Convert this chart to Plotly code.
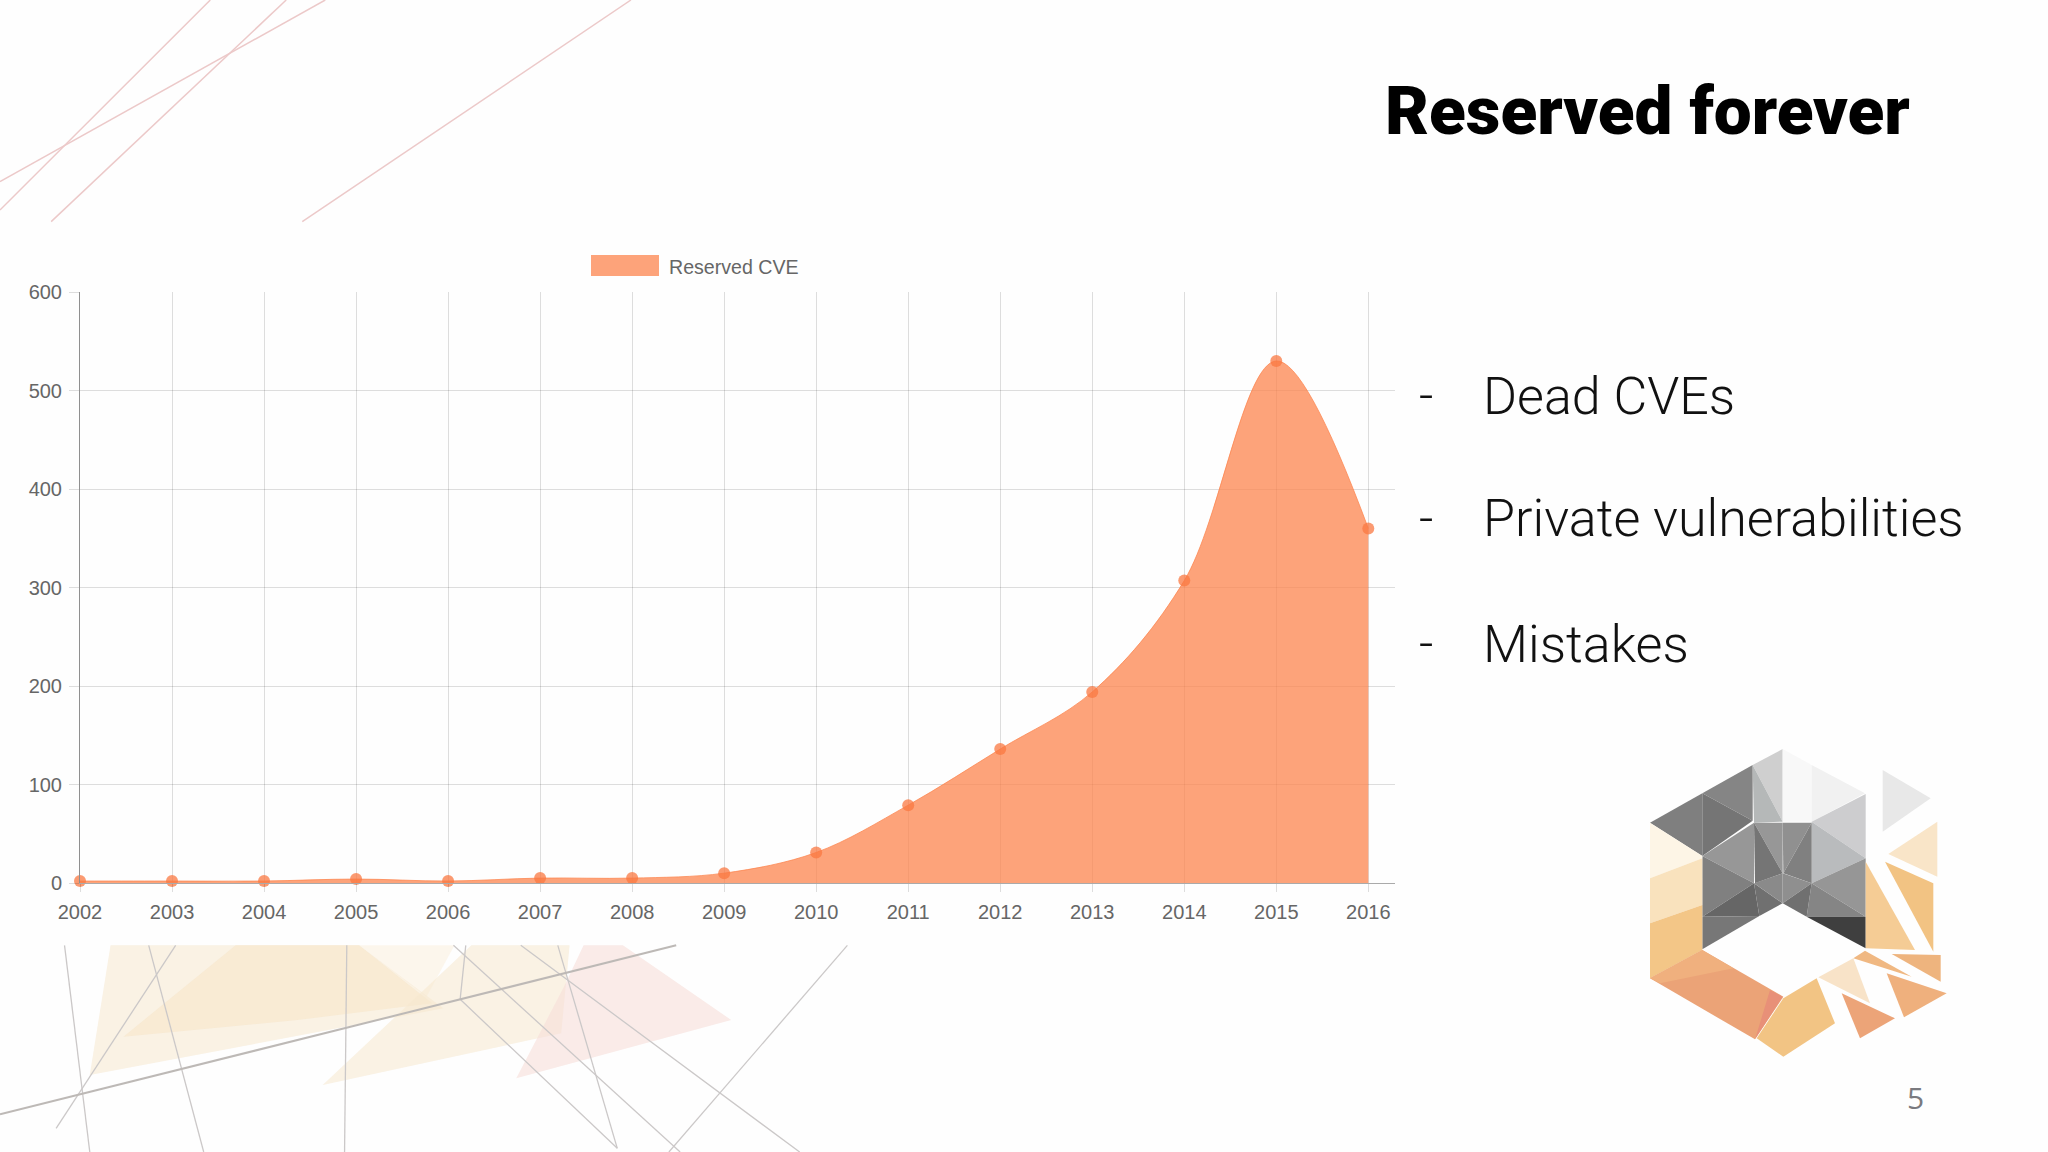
import plotly.graph_objects as go

W = 2048
H = 1152

years = list(range(2002, 2017))
reserved = [2, 2, 2, 4, 2, 5, 5, 10, 31, 79, 136, 194, 307, 530, 360]
y_ticks = [0, 100, 200, 300, 400, 500, 600]

title = "Reserved forever"
series_name = "Reserved CVE"
bullets = ["Dead CVEs", "Private vulnerabilities", "Mistakes"]
page_number = "5"

FILL = "rgba(252,132,78,0.75)"
MARKER = "rgba(250,120,65,0.75)"


def px(x):
    return x / W


def py(y):
    return 1 - y / H


def line(x0, y0, x1, y1, color, width=1.2):
    return dict(type="line", xref="paper", yref="paper", layer="below",
                x0=px(x0), y0=py(y0), x1=px(x1), y1=py(y1),
                line=dict(color=color, width=width))


def poly(points, color):
    path = "M" + "L".join(f"{px(x):.5f},{py(y):.5f}" for x, y in points) + "Z"
    return dict(type="path", xref="paper", yref="paper", layer="below", path=path,
                fillcolor=color, line=dict(width=0))


def label(text, x, y, size, color, family="Roboto", weight=300, anchor="left"):
    return dict(text=text, x=px(x), y=py(y), xref="paper", yref="paper",
                xanchor=anchor, yanchor="middle", showarrow=False,
                font=dict(family=family, size=size, color=color, weight=weight))


shapes = []

# top left decoration
for a in [(485, 0, 0, 630), (660, 0, 118, 665), (750, 0, 0, 545), (1455, 0, 697, 665)]:
    shapes.append(line(a[0] / 2.306, a[1] / 3, a[2] / 2.306, a[3] / 3, "#ecc9c9", 1.5))


def bx(x):
    return x / 1.782


def by(y):
    return 930 + y / 3


bottom_polys = [
    ([(197, 46), (640, 46), (790, 235), (160, 435)], "rgba(246,232,205,0.55)"),
    ([(420, 46), (640, 46), (770, 220), (530, 270), (220, 320)], "rgba(248,228,195,0.5)"),
    ([(640, 46), (810, 46), (760, 200)], "rgba(250,236,210,0.4)"),
    ([(575, 465), (840, 46), (1015, 46), (1000, 310)], "rgba(246,232,205,0.55)"),
    ([(1040, 46), (1110, 46), (1303, 270), (920, 445), (1005, 170)], "rgba(246,222,216,0.6)"),
]
for pts, col in bottom_polys:
    shapes.append(poly([(bx(x), by(y)) for x, y in pts], col))

bottom_lines = [
    (115, 46, 160, 666), (265, 46, 363, 666), (313, 46, 100, 595), (618, 46, 614, 666),
    (808, 46, 1212, 666), (830, 46, 820, 208), (820, 208, 1100, 655), (994, 46, 1100, 655),
    (928, 46, 1425, 666), (1510, 46, 1192, 666),
]
for a in bottom_lines:
    shapes.append(line(bx(a[0]), by(a[1]), bx(a[2]), by(a[3]), "#cbc8c8", 1.3))
shapes.append(line(bx(0), by(553), bx(1205), by(46), "#bdb9b6", 2))


def lx(x):
    return 1600 + x / 3


def ly(y):
    return 730 + y / 3


logo = [
    ([(150, 278), (307, 190), (307, 378)], "#7f7f7f"),
    ([(307, 190), (458, 105), (458, 272)], "#858585"),
    ([(307, 190), (458, 272), (307, 378)], "#757575"),
    ([(458, 105), (548, 57), (548, 275)], "#cfcfcf"),
    ([(458, 105), (548, 275), (462, 278)], "#b5b8b8"),
    ([(548, 57), (635, 105), (635, 275), (548, 275)], "#f8f8f8"),
    ([(635, 105), (795, 190), (635, 275)], "#f1f1f1"),
    ([(635, 275), (797, 192), (797, 385)], "#cdcdcf"),
    ([(635, 275), (797, 385), (635, 460)], "#b9bbbd"),
    ([(635, 460), (797, 385), (797, 560)], "#969696"),
    ([(635, 460), (797, 560), (620, 560)], "#858585"),
    ([(620, 560), (797, 560), (797, 655)], "#3f3f3f"),
    ([(462, 278), (548, 278), (548, 430)], "#979797"),
    ([(548, 278), (635, 278), (550, 430)], "#909090"),
    ([(462, 278), (548, 430), (465, 460)], "#757575"),
    ([(635, 278), (635, 460), (550, 430)], "#808080"),
    ([(307, 378), (462, 278), (462, 460)], "#979797"),
    ([(307, 378), (462, 460), (307, 560)], "#808080"),
    ([(307, 560), (462, 460), (478, 558)], "#666666"),
    ([(462, 460), (548, 520), (478, 558)], "#707070"),
    ([(462, 460), (548, 430), (548, 520)], "#8a8a8a"),
    ([(548, 430), (635, 460), (548, 520)], "#8f8f8f"),
    ([(548, 520), (635, 460), (620, 560)], "#707070"),
    ([(307, 560), (478, 558), (307, 658)], "#777777"),
    ([(150, 278), (307, 378), (307, 385), (150, 445)], "#fdf5e6"),
    ([(150, 445), (307, 385), (307, 525), (150, 580)], "#f9e2bd"),
    ([(150, 580), (307, 525), (307, 660), (150, 745)], "#f3c687"),
    ([(150, 745), (307, 660), (550, 800), (465, 928)], "#eba377"),
    ([(150, 745), (307, 660), (400, 715), (180, 760)], "#f0b07e"),
    ([(510, 780), (548, 800), (465, 928)], "#e89078"),
    ([(470, 925), (550, 805), (650, 745), (705, 880), (550, 980)], "#f2c484"),
    ([(655, 742), (760, 685), (810, 820)], "#f8e3c8"),
    ([(725, 790), (885, 865), (780, 925)], "#eca478"),
    ([(860, 730), (1040, 790), (912, 862)], "#efb07d"),
    ([(760, 685), (795, 662), (935, 740)], "#f0b882"),
    ([(875, 672), (1022, 675), (1022, 755)], "#eeb47e"),
    ([(797, 395), (945, 660), (797, 655)], "#f5cc95"),
    ([(855, 395), (1000, 460), (1000, 665)], "#f2c383"),
    ([(865, 372), (1012, 275), (1012, 440)], "#f9e5c8"),
    ([(848, 120), (992, 205), (848, 305)], "#e8e8e8"),
]
for pts, col in logo:
    shapes.append(poly([(lx(x), ly(y)) for x, y in pts], col))

# legend swatch
shapes.append(dict(type="rect", xref="paper", yref="paper", x0=px(591), x1=px(659),
                   y0=py(255), y1=py(276), fillcolor=FILL, line=dict(width=0)))

annotations = [
    label(title, 1383, 110, 67.5, "#000000", weight=900),
    label(series_name, 667, 267, 19.6, "#666666", family="Liberation Sans", weight=400),
    label(page_number, 1915, 1097, 30, "#7a7a7f", family="Open Sans", weight=400, anchor="center"),
]
for text, y in zip(bullets, [396, 519, 644]):
    annotations.append(label("-", 1417, y - 1, 50, "#111111"))
    annotations.append(label(text, 1481, y, 52, "#111111"))

fig = go.Figure()
fig.add_trace(go.Scatter(
    x=years, y=reserved, name=series_name, mode="lines+markers",
    line=dict(shape="spline", smoothing=1.0, color=FILL, width=1),
    fill="tozeroy", fillcolor=FILL,
    marker=dict(size=12, color=MARKER, line=dict(width=0)),
    cliponaxis=False,
))

fig.update_layout(
    width=W, height=H,
    margin=dict(l=0, r=0, t=0, b=0),
    paper_bgcolor="#fefefe", plot_bgcolor="rgba(0,0,0,0)",
    showlegend=False,
    shapes=shapes,
    annotations=annotations,
    font=dict(family="Liberation Sans", size=20, color="#666666"),
    xaxis=dict(
        domain=[px(80), px(1395)], range=[2002, 2016.29], automargin=False,
        tickmode="array", tickvals=years, ticktext=[str(y) for y in years],
        showgrid=True, gridcolor="rgba(0,0,0,0.13)", gridwidth=1,
        ticks="outside", ticklen=8, tickcolor="rgba(0,0,0,0.13)",
        showline=True, linecolor="#aaaaaa", linewidth=1, zeroline=False,
        ticklabelstandoff=3,
    ),
    yaxis=dict(
        domain=[py(883), py(292)], range=[0, 600], automargin=False,
        tickmode="array", tickvals=y_ticks,
        showgrid=True, gridcolor="rgba(0,0,0,0.13)", gridwidth=1,
        ticks="outside", ticklen=10, tickcolor="rgba(0,0,0,0.13)",
        showline=True, linecolor="#8f8f8f", linewidth=1, zeroline=False,
        ticklabelstandoff=3,
    ),
)

fig.write_html("out.html", config={"displayModeBar": False},
               post_script="document.body.style.margin='0'")
